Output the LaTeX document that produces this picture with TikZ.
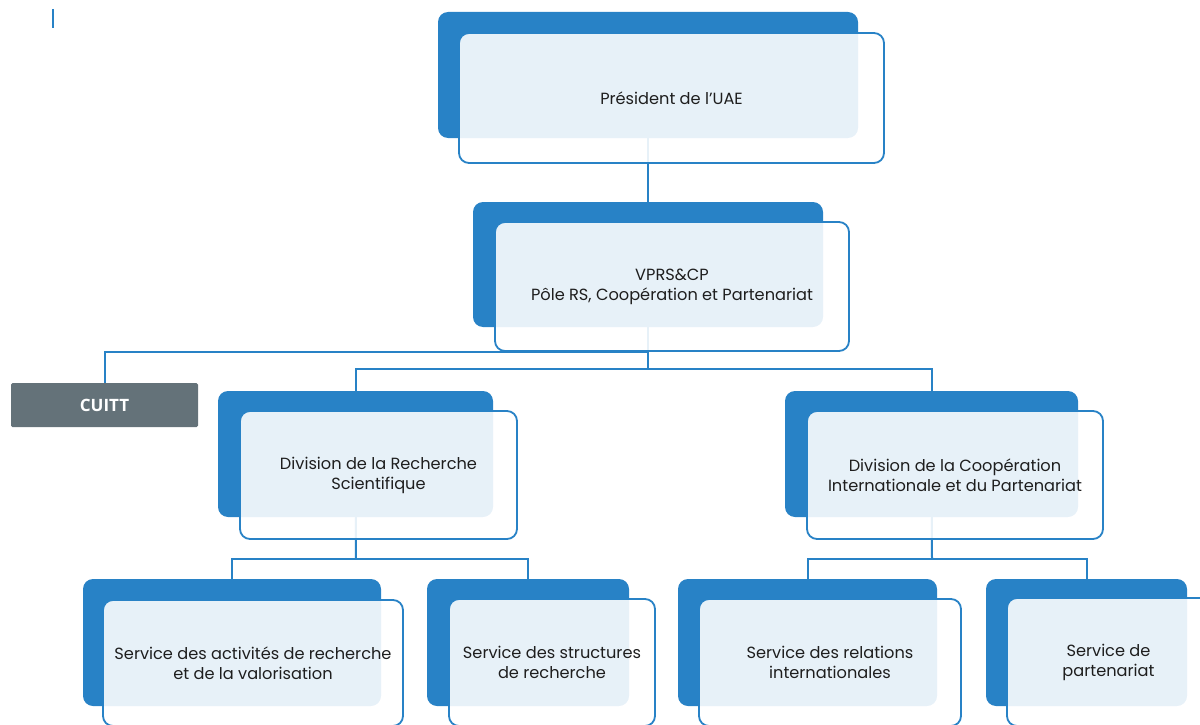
\documentclass[tikz,border=0pt]{standalone}
\usepackage{fontspec}
\setmainfont{Poppins}
\newfontfamily\cuittfont{Open Sans}
\usetikzlibrary{fit}
\pgfdeclarelayer{background}
\pgfsetlayers{background,main}
\definecolor{dkblue}{HTML}{2882C6}
\definecolor{txtcol}{HTML}{1E1E1E}
\definecolor{cuittgray}{HTML}{647279}
\begin{document}
\begin{tikzpicture}[x=1pt,y=-1pt,
  dk/.style={rectangle, rounded corners=10pt, fill=dkblue, draw=none, inner sep=0pt},
  ob/.style={rectangle, rounded corners=10pt, draw=dkblue, line width=1.8pt, fill=white, fill opacity=0.89, inner sep=0pt},
  conn/.style={draw=dkblue, line width=2pt},
  lbl/.style={text=txtcol, align=center, font=\fontsize{16.2}{20}\selectfont, inner sep=0pt},
  cuittbox/.style={rectangle, rounded corners=1.5pt, fill=cuittgray, inner sep=0pt},
]
\useasboundingbox (0,0) rectangle (1200,725);
\clip (0,0) rectangle (1200,725);

% President
\node[dk, fit={(438,12) (858,138)}] (presD) {};
\node[ob, fit={(459,33) (884,163)}] (presO) {};
\node[lbl] (presT) at (presO.center) {Président de l’UAE};

% VPRS
\node[dk, fit={(473,202) (823,327)}] (vprsD) {};
\node[ob, fit={(495,222) (849,351)}] (vprsO) {};
\node[lbl] (vprsT) at (vprsO.center) {VPRS\&CP\\Pôle RS, Coopération et Partenariat};

% CUITT
\node[cuittbox, fit={(11,383) (198,427)}] (cuitt) {};
\node[text=white, font=\cuittfont\bfseries\fontsize{17}{20}\selectfont, inner sep=0pt] (cuittT) at (cuitt.center) {CUITT};

% Division RS
\node[dk, fit={(218,391) (493,517)}] (rsD) {};
\node[ob, fit={(240,411) (517,539)}] (rsO) {};
\node[lbl] (rsT) at (rsO.center) {Division de la Recherche\\Scientifique};

% Division CIP
\node[dk, fit={(785,391) (1078,517)}] (cipD) {};
\node[ob, fit={(807,411) (1103,539)}] (cipO) {};
\node[lbl] (cipT) at (cipO.center) {Division de la Coopération\\Internationale et du Partenariat};

% Services
\node[dk, fit={(83,579) (381,706)}] (arvD) {};
\node[ob, fit={(103,600) (403,726)}] (arvO) {};
\node[lbl] (arvT) at (arvO.center) {Service des activités de recherche\\et de la valorisation};

\node[dk, fit={(427,579) (629,706)}] (srD) {};
\node[ob, fit={(449,599) (655,726)}] (srO) {};
\node[lbl] (srT) at (srO.center) {Service des structures\\de recherche};

\node[dk, fit={(678,579) (937,706)}] (riD) {};
\node[ob, fit={(699,599) (961,726)}] (riO) {};
\node[lbl] (riT) at (riO.center) {Service des relations\\internationales};

\node[dk, fit={(986,579) (1187,706)}] (paD) {};
\node[ob, fit={(1007,598) (1210,726)}] (paO) {};
\node[lbl] (paT) at (paO.center) {Service de\\partenariat};

% stray mark
\coordinate (m1) at (53,9);
\coordinate (m2) at (53,28);
\draw[dkblue, line width=2.5pt] (m1) -- (m2);

\begin{pgfonlayer}{background}
  \coordinate (b0) at (648,352);
  \coordinate (b1) at (648,369);
  \coordinate (b2) at (356,559);
  \coordinate (b3) at (932,559);
  \draw[conn] (presD.center) -- (vprsD.north);
  \draw[conn] (vprsD.center) -- (b1);
  \draw[conn] (b0) -| (cuitt.north);
  \draw[conn] (rsD.north) |- (b1) -| (cipD.north);
  \draw[conn] (rsD.center) -- (b2);
  \draw[conn] (arvD.north) |- (b2) -| (srD.north);
  \draw[conn] (cipD.center) -- (b3);
  \draw[conn] (riD.north) |- (b3) -| (paD.north);
\end{pgfonlayer}
\end{tikzpicture}
\end{document}
